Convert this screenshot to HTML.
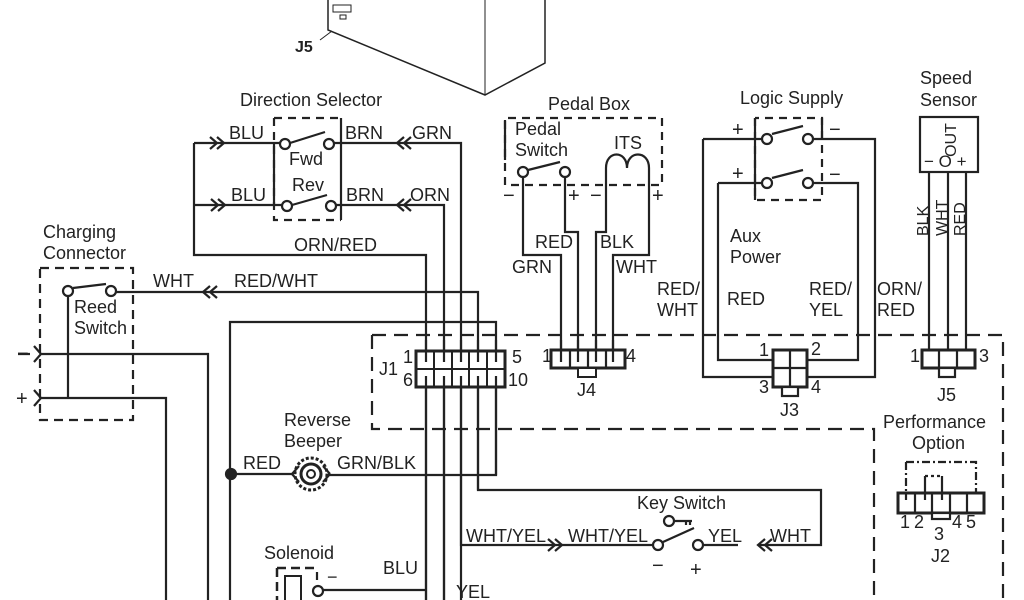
<!DOCTYPE html>
<html><head><meta charset="utf-8"><style>
html,body{margin:0;padding:0;background:#fff;width:1024px;height:600px;overflow:hidden}
svg{display:block}
text{font-family:"Liberation Sans",sans-serif;font-size:18px;fill:#222}
</style></head><body>
<svg width="1024" height="600" viewBox="0 0 1024 600" xmlns="http://www.w3.org/2000/svg">
<g fill="none" stroke="#222" stroke-width="2.2">
<!-- top box -->
<path d="M328 0 V30 L485 95 L545 63 V0" stroke-width="1.5"/>
<path d="M485 0 V95" stroke-width="1"/>
<path d="M333 5 h18 v7 h-18z M340 15 h6 v4 h-6z" stroke-width="1"/>
<path d="M320 40 L332 31" stroke-width="1"/>

<!-- Direction selector -->
<path d="M274 118 H341" stroke-dasharray="8,6"/>
<path d="M274 118 V220 H341" stroke-dasharray="8,6"/>
<path d="M341 118 V220"/>
<path d="M274 144 V205"/>
<path d="M194 143 V255 H426 V600"/>
<path d="M194 143 H280 M290 143 L325 132 M334 143 H461 V600"/>
<path d="M194 205 H282 M292 205 L327 195 M336 205 H444 V600"/>
<circle cx="285" cy="144" r="5" fill="#fff"/><circle cx="329" cy="144" r="5" fill="#fff"/>
<circle cx="287" cy="206" r="5" fill="#fff"/><circle cx="331" cy="206" r="5" fill="#fff"/>
<path d="M210 137 l7 6 l-7 6 M217 137 l7 6 l-7 6 M211 199 l7 6 l-7 6 M218 199 l7 6 l-7 6"/>
<path d="M404 137 l-7 6 l7 6 M411 137 l-7 6 l7 6 M404 199 l-7 6 l7 6 M411 199 l-7 6 l7 6"/>

<!-- charging -->
<path d="M40 268 H133 V420 H40 Z" stroke-dasharray="9,6"/>
<path d="M68 290 V398 M73 288 L106 284 M116 292 H478 V490 H821 V545 H759 M738 545 H703"/>
<circle cx="68" cy="291" r="5" fill="#fff"/><circle cx="111" cy="291" r="5" fill="#fff"/>
<path d="M210 286 l-7 6 l7 6 M217 286 l-7 6 l7 6"/>
<path d="M18 354 H30 M34 346 l7 8 l-7 8 M40 354 H208 V600"/>
<path d="M34 390 l7 8 l-7 8 M40 398 H166 V600"/>
<!-- red wire -->
<path d="M230 600 V322 H496 V475 H328 M231 474 H292"/>
<circle cx="231" cy="474" r="5" fill="#222"/>

<!-- J1 area dashed -->
<path d="M372 335 H1003 V600 M372 335 V429 H874 V600" stroke-dasharray="14,8"/>
<rect x="416" y="351" width="89" height="36" stroke-width="3" fill="#fff"/>
<path d="M416 369 H505 M434 351 V387 M452 351 V387 M469 351 V387 M487 351 V387" stroke-width="2"/>
<path d="M426 340 V362 M444 340 V362 M461 340 V362 M478 340 V362 M496 340 V362 M426 376 V600 M444 376 V600 M461 376 V545 H652 M478 376 V490 M496 376 V475"/>
<!-- key switch -->
<path d="M548 539 l7 6 l-7 6 M555 539 l7 6 l-7 6 M765 539 l-7 6 l7 6 M772 539 l-7 6 l7 6"/>
<path d="M663 542 L694 528"/>
<circle cx="658" cy="545" r="5" fill="#fff"/><circle cx="698" cy="545" r="5" fill="#fff"/>
<ellipse cx="669" cy="521" rx="5" ry="5"/><path d="M674 521 H692 M686 521 v4 M690 521 v4"/>
<!-- beeper -->
<path d="M292 474 l7 -8 M292 474 l7 8 M330 474 l-7 -8 M330 474 l-7 8"/>
<circle cx="311" cy="474" r="16" stroke-width="3" stroke-dasharray="3,2"/>
<circle cx="311" cy="474" r="10" stroke-width="3"/>
<circle cx="311" cy="474" r="4" stroke-width="2"/>
<!-- solenoid -->
<path d="M277 568 V600 M277 568 H315" stroke-dasharray="9,5" stroke-width="2.5"/>
<path d="M285 600 V576 H301 V600" stroke-width="2"/>
<path d="M317 572 V580"/>
<circle cx="318" cy="591" r="5" fill="#fff"/>
<path d="M323 590 H426"/>

<!-- Pedal box -->
<path d="M505 120 V160"/>
<path d="M505 185 V118 H662 V185 H505" stroke-dasharray="8,6"/>
<path d="M528 170 L560 162"/>
<circle cx="523" cy="172" r="5" fill="#fff"/><circle cx="565" cy="172" r="5" fill="#fff"/>
<path d="M523 177 V255 H561 V350 M565 177 V232 H578 V350 M606 168 V232 H596 V350 M649 168 V255 H613 V350"/>
<path d="M606 168 C606 150 627 150 627 168 C627 150 649 150 649 168"/>
<rect x="551" y="350" width="74" height="18" stroke-width="3" fill="#fff"/>
<path d="M570 350 V368 M588 350 V368 M606 350 V368 M561 340 V362 M578 340 V362 M596 340 V362 M613 340 V362"/>
<rect x="578" y="368" width="18" height="9" stroke-width="2" fill="#fff"/>

<!-- logic supply -->
<path d="M755 118 V200 H822 V118 H755" stroke-dasharray="8,6"/>
<path d="M755 118 V200 M822 118 V140"/>
<path d="M703 139 H762 M772 134 L803 126 M813 139 H875 V377 H807 M773 377 H703 V139"/>
<path d="M718 183 H762 M772 178 L803 170 M813 183 H858 V360 H807 M773 360 H718 V183"/>
<circle cx="767" cy="139" r="5" fill="#fff"/><circle cx="808" cy="139" r="5" fill="#fff"/>
<circle cx="767" cy="183" r="5" fill="#fff"/><circle cx="808" cy="183" r="5" fill="#fff"/>
<rect x="773" y="350" width="34" height="37" stroke-width="3" fill="#fff"/>
<path d="M773 368 H807 M790 350 V387"/>
<rect x="782" y="387" width="16" height="9" fill="#fff"/>

<!-- speed sensor -->
<rect x="920" y="117" width="58" height="55"/>
<path d="M929 172 V350 M948 172 V350 M966 172 V350"/>
<rect x="922" y="350" width="53" height="18" stroke-width="3" fill="#fff"/>
<path d="M939 350 V368 M957 350 V368"/>
<rect x="939" y="368" width="16" height="9" fill="#fff"/>

<!-- J2 -->
<rect x="898" y="493" width="86" height="20" stroke-width="3" fill="#fff"/>
<path d="M915 493 V513 M932 493 V513 M950 493 V513 M967 493 V513"/>
<path d="M906 462 H976 V493 M906 462 V500" stroke-dasharray="8,3,2,3"/>
<path d="M925 476 H942" stroke-dasharray="3,3"/>
<path d="M925 476 V500 M942 476 V500"/>
<rect x="932" y="513" width="18" height="6" fill="#fff"/>
</g>

<text x="295" y="52" style="font-weight:bold;font-size:16px">J5</text>
<text x="240" y="106">Direction Selector</text>
<text x="229" y="139">BLU</text>
<text x="231" y="201">BLU</text>
<text x="345" y="139">BRN</text>
<text x="346" y="201">BRN</text>
<text x="412" y="139">GRN</text>
<text x="410" y="201">ORN</text>
<text x="289" y="165">Fwd</text>
<text x="292" y="191">Rev</text>
<text x="294" y="251">ORN/RED</text>
<text x="43" y="238">Charging</text>
<text x="43" y="259">Connector</text>
<text x="153" y="287">WHT</text>
<text x="234" y="287">RED/WHT</text>
<text x="74" y="313">Reed</text>
<text x="74" y="334">Switch</text>
<text x="17" y="360" style="font-size:20px">−</text>
<text x="16" y="405" style="font-size:20px">+</text>
<text x="379" y="375">J1</text>
<text x="403" y="363">1</text>
<text x="403" y="386">6</text>
<text x="512" y="363">5</text>
<text x="508" y="386">10</text>
<text x="284" y="426">Reverse</text>
<text x="284" y="447">Beeper</text>
<text x="243" y="469">RED</text>
<text x="337" y="469">GRN/BLK</text>
<text x="264" y="559">Solenoid</text>
<text x="327" y="583">−</text>
<text x="383" y="574">BLU</text>
<text x="456" y="598">YEL</text>
<text x="548" y="110">Pedal Box</text>
<text x="515" y="135">Pedal</text>
<text x="515" y="156">Switch</text>
<text x="614" y="149">ITS</text>
<text x="503" y="202" style="font-size:20px">−</text>
<text x="568" y="202" style="font-size:20px">+</text>
<text x="590" y="202" style="font-size:20px">−</text>
<text x="652" y="202" style="font-size:20px">+</text>
<text x="535" y="248">RED</text>
<text x="600" y="248">BLK</text>
<text x="512" y="273">GRN</text>
<text x="616" y="273">WHT</text>
<text x="542" y="362">1</text>
<text x="626" y="362">4</text>
<text x="577" y="396">J4</text>
<text x="740" y="104">Logic Supply</text>
<text x="732" y="136" style="font-size:20px">+</text>
<text x="732" y="180" style="font-size:20px">+</text>
<text x="829" y="136" style="font-size:20px">−</text>
<text x="829" y="181" style="font-size:20px">−</text>
<text x="730" y="242">Aux</text>
<text x="730" y="263">Power</text>
<text x="657" y="295">RED/</text>
<text x="657" y="316">WHT</text>
<text x="727" y="305">RED</text>
<text x="809" y="295">RED/</text>
<text x="809" y="316">YEL</text>
<text x="877" y="295">ORN/</text>
<text x="877" y="316">RED</text>
<text x="759" y="356">1</text>
<text x="811" y="355">2</text>
<text x="759" y="393">3</text>
<text x="811" y="393">4</text>
<text x="780" y="416">J3</text>
<text x="920" y="84">Speed</text>
<text x="920" y="106">Sensor</text>
<text x="924" y="167" style="font-size:17px">− O +</text>
<text transform="translate(956,140) rotate(-90)" text-anchor="middle" style="font-size:16px">OUT</text>
<text transform="translate(928,236) rotate(-90)" style="font-size:16px">BLK</text>
<text transform="translate(947,236) rotate(-90)" style="font-size:16px">WHT</text>
<text transform="translate(965,236) rotate(-90)" style="font-size:16px">RED</text>
<text x="910" y="362">1</text>
<text x="979" y="362">3</text>
<text x="937" y="401">J5</text>
<text x="883" y="428">Performance</text>
<text x="912" y="449">Option</text>
<text x="900" y="528">1</text>
<text x="914" y="528">2</text>
<text x="934" y="540">3</text>
<text x="952" y="528">4</text>
<text x="966" y="528">5</text>
<text x="931" y="562">J2</text>
<text x="637" y="509">Key Switch</text>
<text x="466" y="542">WHT/YEL</text>
<text x="568" y="542">WHT/YEL</text>
<text x="708" y="542">YEL</text>
<text x="770" y="542">WHT</text>
<text x="652" y="572" style="font-size:20px">−</text>
<text x="690" y="576" style="font-size:20px">+</text>
</svg>
</body></html>
